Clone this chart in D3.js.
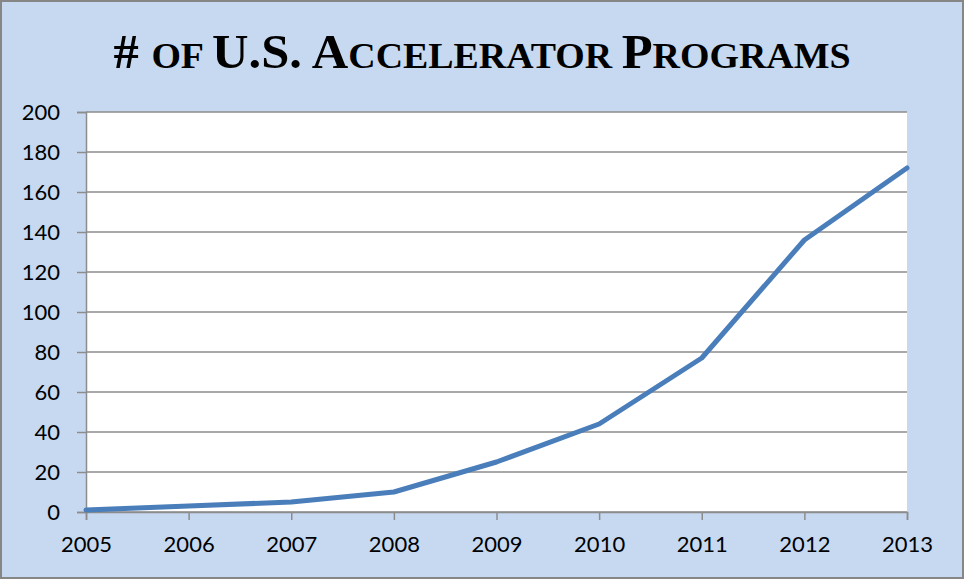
<!DOCTYPE html>
<html>
<head>
<meta charset="utf-8">
<script src="https://cdn.jsdelivr.net/npm/d3@7"></script>
<style>
  body { margin: 0; background: #fff; }
  svg { display: block; }
  .tick text { font-family: Lato, "Open Sans", sans-serif; font-size: 22px; fill: #000; }
</style>
</head>
<body>
<div id="chart"></div>
<script>
// Data
const years = ["2005", "2006", "2007", "2008", "2009", "2010", "2011", "2012", "2013"];
const programs = [1, 3, 5, 10, 25, 44, 77, 136, 172];
const yTicks = [0, 20, 40, 60, 80, 100, 120, 140, 160, 180, 200];
// title split into full caps / small caps runs
const titleParts = [
  { t: "# ", small: false }, { t: "OF ", small: true },
  { t: "U.S. A", small: false }, { t: "CCELERATOR ", small: true },
  { t: "P", small: false }, { t: "ROGRAMS", small: true }
];

const width = 964;
const height = 579;
const margin = { top: 112, right: 57, bottom: 67, left: 86 };
const innerWidth = width - margin.left - margin.right;
const innerHeight = height - margin.top - margin.bottom;

const svg = d3.select('#chart')
  .append('svg')
  .attr('width', width)
  .attr('height', height);

// Outer chart area with border
svg.append('rect')
  .attr('x', 1)
  .attr('y', 1)
  .attr('width', width - 2)
  .attr('height', height - 2)
  .style('fill', '#c6d9f1')
  .style('stroke', '#868686')
  .style('stroke-width', 2);

// Title
const title = svg.append('text')
  .attr('x', 482)
  .attr('y', 68)
  .attr('text-anchor', 'middle')
  .attr('textLength', 737)
  .attr('lengthAdjust', 'spacingAndGlyphs')
  .style('font-family', '"Liberation Serif", "Times New Roman", serif')
  .style('font-weight', 'bold');

title.selectAll('tspan')
  .data(titleParts)
  .enter()
  .append('tspan')
  .style('font-size', d => d.small ? '36px' : '48px')
  .text(d => d.t);

const g = svg.append('g')
  .attr('transform', `translate(${margin.left},${margin.top})`);

// Plot area
g.append('rect')
  .attr('width', innerWidth)
  .attr('height', innerHeight)
  .style('fill', '#fff');

const xScale = d3.scalePoint()
  .domain(years)
  .range([0, innerWidth]);

const yScale = d3.scaleLinear()
  .domain([0, 200])
  .range([innerHeight, 0]);

// Gridlines
g.selectAll('.grid-line')
  .data(yTicks)
  .enter()
  .append('line')
  .attr('class', 'grid-line')
  .attr('x1', 0)
  .attr('x2', innerWidth)
  .attr('y1', d => yScale(d))
  .attr('y2', d => yScale(d))
  .style('stroke', '#8c8c8c')
  .style('stroke-width', 1.5);

// Axes
const yAxis = g.append('g')
  .call(d3.axisLeft(yScale).tickValues(yTicks).tickSize(9).tickPadding(17));

const xAxis = g.append('g')
  .attr('transform', `translate(0,${innerHeight})`)
  .call(d3.axisBottom(xScale).tickSize(8).tickPadding(16));

[xAxis, yAxis].forEach(ax => {
  ax.select('.domain').style('stroke', '#8c8c8c').style('stroke-width', 1.5);
  ax.selectAll('.tick line').style('stroke', '#8c8c8c').style('stroke-width', 1.5);
});

// Line
const line = d3.line()
  .x((d, i) => xScale(years[i]))
  .y(d => yScale(d));

g.append('path')
  .datum(programs)
  .attr('d', line)
  .style('fill', 'none')
  .style('stroke', '#4a7ebb')
  .style('stroke-width', 5)
  .style('stroke-linejoin', 'round')
  .style('stroke-linecap', 'round');
</script>
</body>
</html>
